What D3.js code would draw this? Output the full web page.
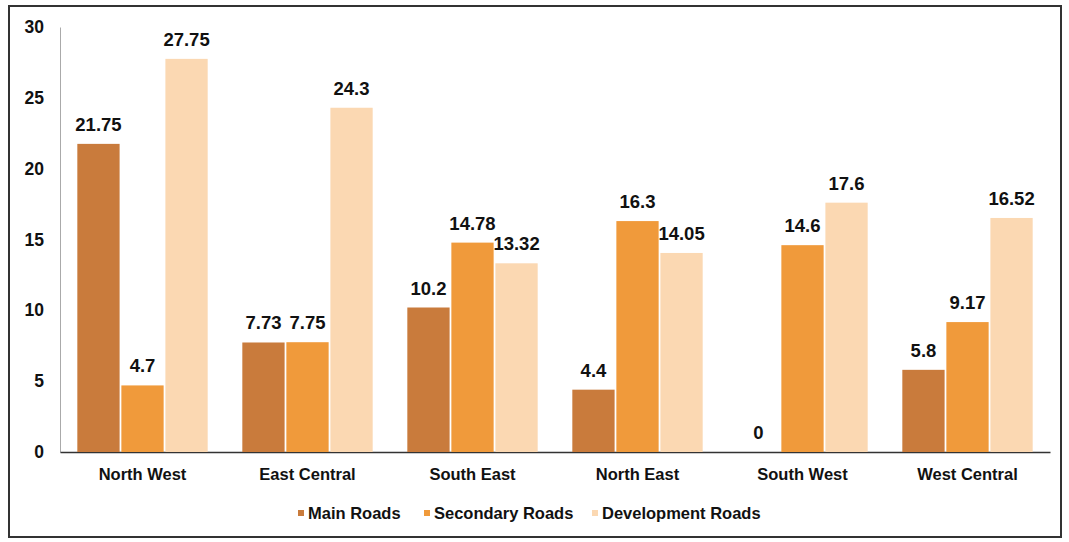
<!DOCTYPE html>
<html><head><meta charset="utf-8">
<script src="https://cdn.jsdelivr.net/npm/d3@7"></script>
<style>body{margin:0;background:#fff}svg{display:block}text{font-family:"Liberation Sans",Arial,sans-serif;font-weight:bold;fill:#111}</style>
</head><body>
<svg id="c" width="1069" height="542"></svg>
<script>
const categories = ["North West","East Central","South East","North East","South West","West Central"];
const seriesNames = ["Main Roads","Secondary Roads","Development Roads"];
const mainRoads = [21.75, 7.73, 10.2, 4.4, 0, 5.8];
const secondaryRoads = [4.7, 7.75, 14.78, 16.3, 14.6, 9.17];
const developmentRoads = [27.75, 24.3, 13.32, 14.05, 17.6, 16.52];
const yTicks = [0,5,10,15,20,25,30];
const colors = ["#c97b3c","#f09a3b","#fbd8b2"];

(function(){
const series = [mainRoads, secondaryRoads, developmentRoads];
const svg = d3.select("#c");
const mLeft = 60, mRight = 1050, mTop = 27, mBottom = 452;

svg.append("rect").attr("x",9).attr("y",6).attr("width",1052).attr("height",531)
  .attr("fill","none").attr("stroke","#333").attr("stroke-width",2);

const x0 = d3.scaleBand().domain(categories).range([mLeft,mRight]).paddingInner(0.21).paddingOuter(0.105);
const x1 = d3.scaleBand().domain(seriesNames).range([0,x0.bandwidth()]).paddingInner(0.04);
const y = d3.scaleLinear().domain([0,30]).range([mBottom,mTop]);

const ya = svg.append("g").attr("transform",`translate(${mLeft},0)`)
  .call(d3.axisLeft(y).tickValues(yTicks).tickSize(0).tickPadding(16));
ya.select(".domain").attr("stroke","#aaa").attr("stroke-width",1);
ya.selectAll("text").style("font-size","17.5px").attr("fill","#111");

const xa = svg.append("g").attr("transform",`translate(0,${mBottom})`)
  .call(d3.axisBottom(x0).tickSize(0).tickPadding(16));
xa.select(".domain").attr("stroke","#333").attr("stroke-width",1.5);
xa.selectAll("text").style("font-size","16.5px").attr("fill","#111");

const groups = svg.append("g").selectAll("g").data(categories).join("g")
  .attr("transform",d=>`translate(${x0(d)},0)`);

seriesNames.forEach((s,si)=>{
  groups.append("rect")
    .attr("x",x1(s)).attr("width",x1.bandwidth())
    .attr("y",(d,i)=>y(series[si][i]))
    .attr("height",(d,i)=>mBottom-y(series[si][i]))
    .attr("fill",colors[si]);
  groups.append("text")
    .attr("x",x1(s)+x1.bandwidth()/2)
    .attr("y",(d,i)=>y(series[si][i])-13)
    .attr("text-anchor","middle").style("font-size","18.5px")
    .text((d,i)=>series[si][i]);
});

const legendX = [298, 424, 592];
const lg = svg.append("g");
seriesNames.forEach((s,i)=>{
  lg.append("rect").attr("x",legendX[i]).attr("y",510).attr("width",6).attr("height",6).attr("fill",colors[i]);
  lg.append("text").attr("x",legendX[i]+10).attr("y",519).style("font-size","16.5px").text(s);
});
})();
</script>
</body></html>
